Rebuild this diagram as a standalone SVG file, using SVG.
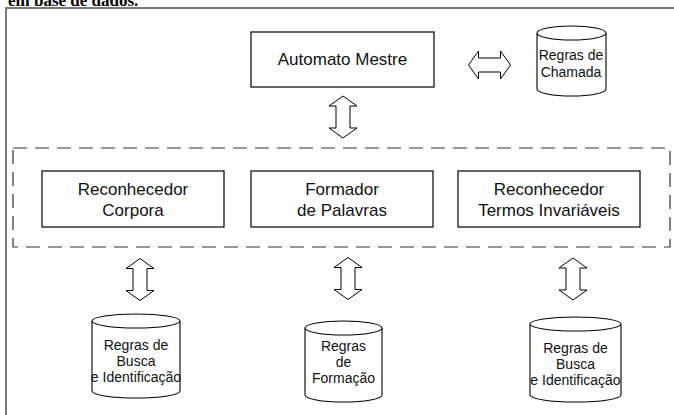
<svg xmlns="http://www.w3.org/2000/svg" width="674" height="415" viewBox="0 0 674 415">
<style>
.box{fill:#fff;stroke:#000;stroke-width:1.2}
.cyl{fill:#fff;stroke:#000;stroke-width:1.1}
.t{font-family:"Liberation Sans",Arial,sans-serif;font-size:17px;fill:#111;text-anchor:middle}
.s{font-family:"Liberation Sans",Arial,sans-serif;font-size:14px;fill:#111;text-anchor:middle}
.arr{fill:#fff;stroke:#000;stroke-width:1}
</style>
<defs>
<path id="varrow" d="M0,-21 L14,-11 L7,-11 L7,11 L14,11 L0,21 L-14,11 L-7,11 L-7,-11 L-14,-11 Z"/>
</defs>
<rect width="674" height="415" fill="#fff"/>
<text x="8" y="6" font-family="Liberation Serif,serif" font-weight="bold" font-size="17" fill="#000">em base de dados.</text>
<path d="M6,415 V8 H674" fill="none" stroke="#7a7a7a" stroke-width="2"/>
<g id="group">
<rect x="13" y="148" width="657" height="99" fill="none" stroke="#333" stroke-width="1.2" stroke-dasharray="14 8"/>
</g>
<g id="connectors">
<use href="#varrow" class="arr" transform="translate(343,117)"/>
<use href="#varrow" class="arr" transform="translate(489.5,65) rotate(90)"/>
<use href="#varrow" class="arr" transform="translate(140,279.5)"/>
<use href="#varrow" class="arr" transform="translate(348,278.5)"/>
<use href="#varrow" class="arr" transform="translate(573,279)"/>
</g>
<g id="automato">
<rect class="box" x="251" y="32" width="183" height="55"/>
<text class="t" x="342.5" y="65">Automato Mestre</text>
</g>
<g id="regras-chamada">
<path class="cyl" d="M537,33 V89 A34.5,7 0 0 0 606,89 V33 A34.5,7 0 0 0 537,33 A34.5,7 0 0 0 606,33"/>
<text class="s" x="571" y="60" font-size="13.5">Regras de</text>
<text class="s" x="571" y="77" font-size="13.5">Chamada</text>
</g>
<g id="reconhecedor-corpora">
<rect class="box" x="42" y="171" width="182" height="56"/>
<text class="t" x="133" y="195">Reconhecedor</text>
<text class="t" x="133" y="216">Corpora</text>
</g>
<g id="formador">
<rect class="box" x="251" y="171" width="182" height="56"/>
<text class="t" x="342" y="195">Formador</text>
<text class="t" x="342" y="216">de Palavras</text>
</g>
<g id="reconhecedor-termos">
<rect class="box" x="458" y="171" width="182" height="56"/>
<text class="t" x="549" y="195">Reconhecedor</text>
<text class="t" x="549" y="216">Termos Invariáveis</text>
</g>
<g id="regras-busca-1">
<path class="cyl" d="M92,321 V391 A44,7 0 0 0 180,391 V321 A44,7 0 0 0 92,321 A44,7 0 0 0 180,321"/>
<text class="s" x="136" y="350">Regras de</text>
<text class="s" x="136" y="366">Busca</text>
<text class="s" x="136" y="382">e Identificação</text>
</g>
<g id="regras-formacao">
<path class="cyl" d="M305,328 V395 A38.5,7 0 0 0 382,395 V328 A38.5,7 0 0 0 305,328 A38.5,7 0 0 0 382,328"/>
<text class="s" x="343.5" y="351">Regras</text>
<text class="s" x="343.5" y="367">de</text>
<text class="s" x="343.5" y="383">Formação</text>
</g>
<g id="regras-busca-2">
<path class="cyl" d="M530,324 V395 A45.5,7 0 0 0 621,395 V324 A45.5,7 0 0 0 530,324 A45.5,7 0 0 0 621,324"/>
<text class="s" x="575.5" y="353">Regras de</text>
<text class="s" x="575.5" y="369">Busca</text>
<text class="s" x="575.5" y="385">e Identificação</text>
</g>
</svg>
